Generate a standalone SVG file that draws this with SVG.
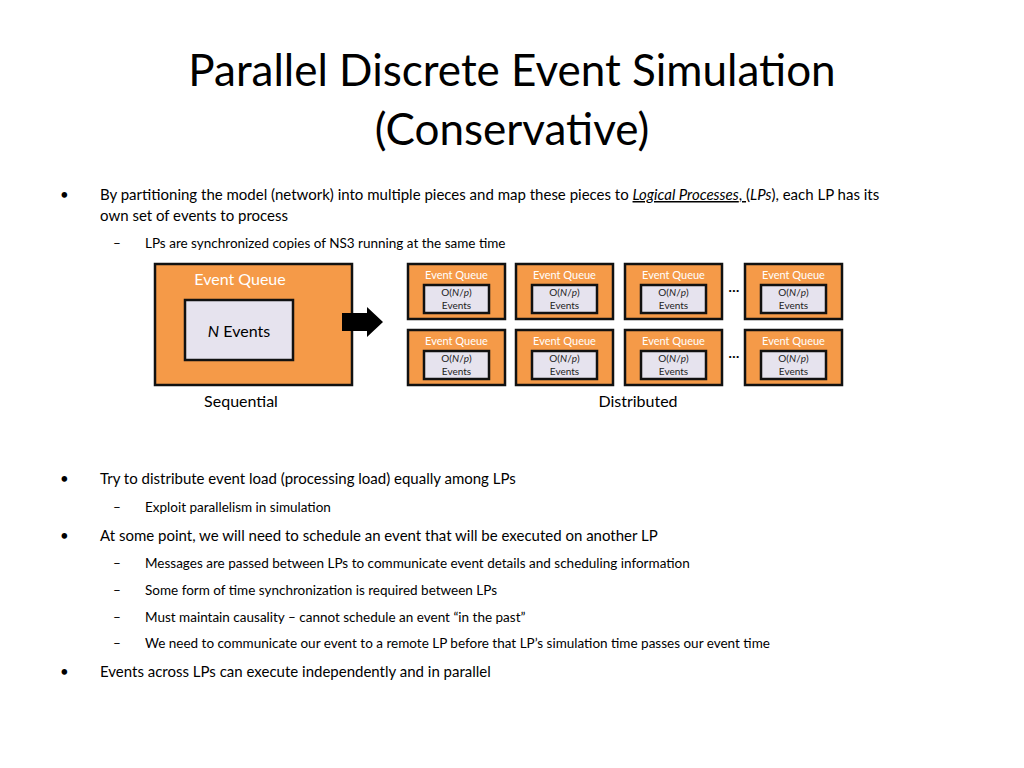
<svg xmlns="http://www.w3.org/2000/svg" width="1024" height="768" viewBox="0 0 1024 768">
<style>
text{font-family:Lato,"Open Sans","Liberation Sans",sans-serif;fill:#000}
.t{font-size:44px}
.b{font-size:15px}
.s{font-size:13.5px}
.q{fill:#f59a48;stroke:#111;stroke-width:2.5}
.i{fill:#e6e3ee;stroke:#111;stroke-width:2.5}
.eq{fill:#fff;font-size:11px;text-anchor:middle}
.ev{font-size:10px;text-anchor:middle;fill:#222}
</style>
<defs>
<g id="lp">
<rect class="q" x="0" y="0" width="97" height="55"/>
<text class="eq" x="48.5" y="15">Event Queue</text>
<rect class="i" x="16" y="21" width="65" height="28"/>
<text class="ev" x="48.5" y="32">O(<tspan font-style="italic">N</tspan>/<tspan font-style="italic">p</tspan>)</text>
<text class="ev" x="48.5" y="45">Events</text>
</g>
</defs>
<rect width="1024" height="768" fill="#fff"/>
<text class="t" x="512" y="86" text-anchor="middle">Parallel Discrete Event Simulation</text>
<text class="t" x="512" y="145" text-anchor="middle">(Conservative)</text>

<text class="b" x="60" y="200">•</text>
<text class="b" x="100" y="200">By partitioning the model (network) into multiple pieces and map these pieces to <tspan font-style="italic" text-decoration="underline">Logical Processes</tspan><tspan text-decoration="underline">, </tspan>(<tspan font-style="italic">LPs</tspan>), each LP has its</text>
<text class="b" x="100" y="221">own set of events to process</text>
<text class="s" x="113" y="248">–</text>
<text class="s" x="145" y="248">LPs are synchronized copies of NS3 running at the same time</text>

<g id="sequential">
<rect class="q" x="155" y="264" width="197" height="121"/>
<text x="240" y="285" font-size="16" fill="#fff" style="fill:#fff" text-anchor="middle">Event Queue</text>
<rect class="i" x="185" y="300" width="108" height="60"/>
<text x="239" y="337" font-size="16" text-anchor="middle"><tspan font-style="italic">N</tspan> Events</text>
<text x="241" y="407" font-size="16" text-anchor="middle">Sequential</text>
</g>
<g id="connectors">
<polygon points="342,313 367,313 367,307 383,322 367,337 367,331 342,331" fill="#000"/>
</g>
<g id="distributed">
<use href="#lp" x="408" y="264"/>
<use href="#lp" x="516" y="264"/>
<use href="#lp" x="625" y="264"/>
<use href="#lp" x="745" y="264"/>
<use href="#lp" x="408" y="330"/>
<use href="#lp" x="516" y="330"/>
<use href="#lp" x="625" y="330"/>
<use href="#lp" x="745" y="330"/>
<text x="734" y="292" font-size="14" font-weight="bold" text-anchor="middle">…</text>
<text x="734" y="358" font-size="14" font-weight="bold" text-anchor="middle">…</text>
<text x="638" y="407" font-size="16" text-anchor="middle">Distributed</text>
</g>

<text class="b" x="60" y="484">•</text>
<text class="b" x="100" y="484">Try to distribute event load (processing load) equally among LPs</text>
<text class="s" x="113" y="512">–</text>
<text class="s" x="145" y="512">Exploit parallelism in simulation</text>
<text class="b" x="60" y="541">•</text>
<text class="b" x="100" y="541">At some point, we will need to schedule an event that will be executed on another LP</text>
<text class="s" x="113" y="568">–</text>
<text class="s" x="145" y="568">Messages are passed between LPs to communicate event details and scheduling information</text>
<text class="s" x="113" y="595">–</text>
<text class="s" x="145" y="595">Some form of time synchronization is required between LPs</text>
<text class="s" x="113" y="622">–</text>
<text class="s" x="145" y="622">Must maintain causality – cannot schedule an event “in the past”</text>
<text class="s" x="113" y="648">–</text>
<text class="s" x="145" y="648">We need to communicate our event to a remote LP before that LP’s simulation time passes our event time</text>
<text class="b" x="60" y="677">•</text>
<text class="b" x="100" y="677">Events across LPs can execute independently and in parallel</text>
</svg>
